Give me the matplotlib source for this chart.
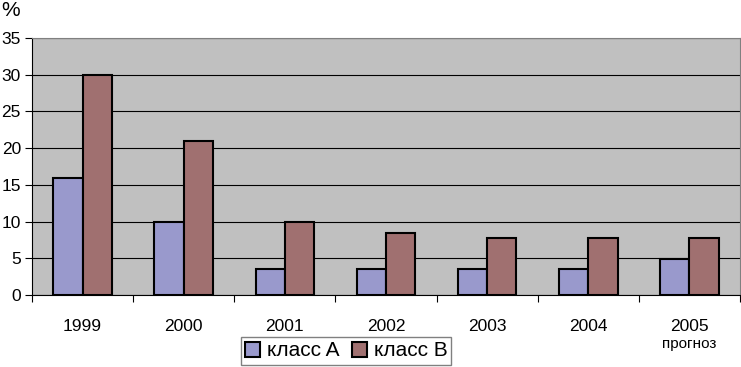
import matplotlib
matplotlib.use("Agg")
import matplotlib.pyplot as plt
import numpy as np

plt.rcParams['font.family'] = ['Liberation Sans', 'DejaVu Sans']

years = ["1999", "2000", "2001", "2002", "2003", "2004", "2005"]
class_a = [16, 10, 3.5, 3.5, 3.5, 3.5, 4.9]
class_b = [30, 21, 10, 8.5, 7.8, 7.8, 7.8]
series_names = ["класс A", "класс B"]

fig = plt.figure(figsize=(7.41, 3.67), dpi=100)
ax = fig.add_axes([32/741, 1-295/367, 708/741, (295-38)/367])
ax.set_facecolor('#c0c0c0')

x = np.arange(len(years))
w = 0.29
ax.bar(x - w/2, class_a, w, color='#9999cc', edgecolor='black', linewidth=1.5, label=series_names[0], zorder=3)
ax.bar(x + w/2, class_b, w, color='#a07070', edgecolor='black', linewidth=1.5, label=series_names[1], zorder=3)

ax.set_xlim(-0.5, len(years) - 0.5)
ax.set_ylim(0, 35)
ax.set_yticks(np.arange(0, 36, 5))
ax.yaxis.grid(True, color='black', linewidth=0.8, zorder=1)
ax.set_axisbelow(True)

ax.set_xticks(x)
ax.set_xticklabels(years, fontsize=12.5)
ax.tick_params(axis='x', which='major', length=0, pad=17)
ax.set_xticks(np.arange(-0.5, len(years), 1), minor=True)
ax.tick_params(axis='x', which='minor', length=5, color='black', width=0.8)
ax.tick_params(axis='y', length=5, width=0.8, labelsize=12.5, pad=3)

ax.text(6, -6.7, "прогноз", ha='center', va='center', fontsize=11)

for s in ['top', 'right']:
    ax.spines[s].set_color('#808080')
for s in ['left', 'bottom']:
    ax.spines[s].set_color('black')
    ax.spines[s].set_linewidth(0.8)

fig.text(1/741, 1-10/367, "%", fontsize=15, ha='left', va='center')

fig.legend(loc='center', bbox_to_anchor=(346/741, 1-351/367), ncol=2, fontsize=15,
           frameon=True, fancybox=False, edgecolor='#808080', handlelength=0.75, handleheight=0.75,
           handletextpad=0.3, columnspacing=0.6, borderpad=0.2, framealpha=1)

fig.savefig("out.png", dpi=100)
